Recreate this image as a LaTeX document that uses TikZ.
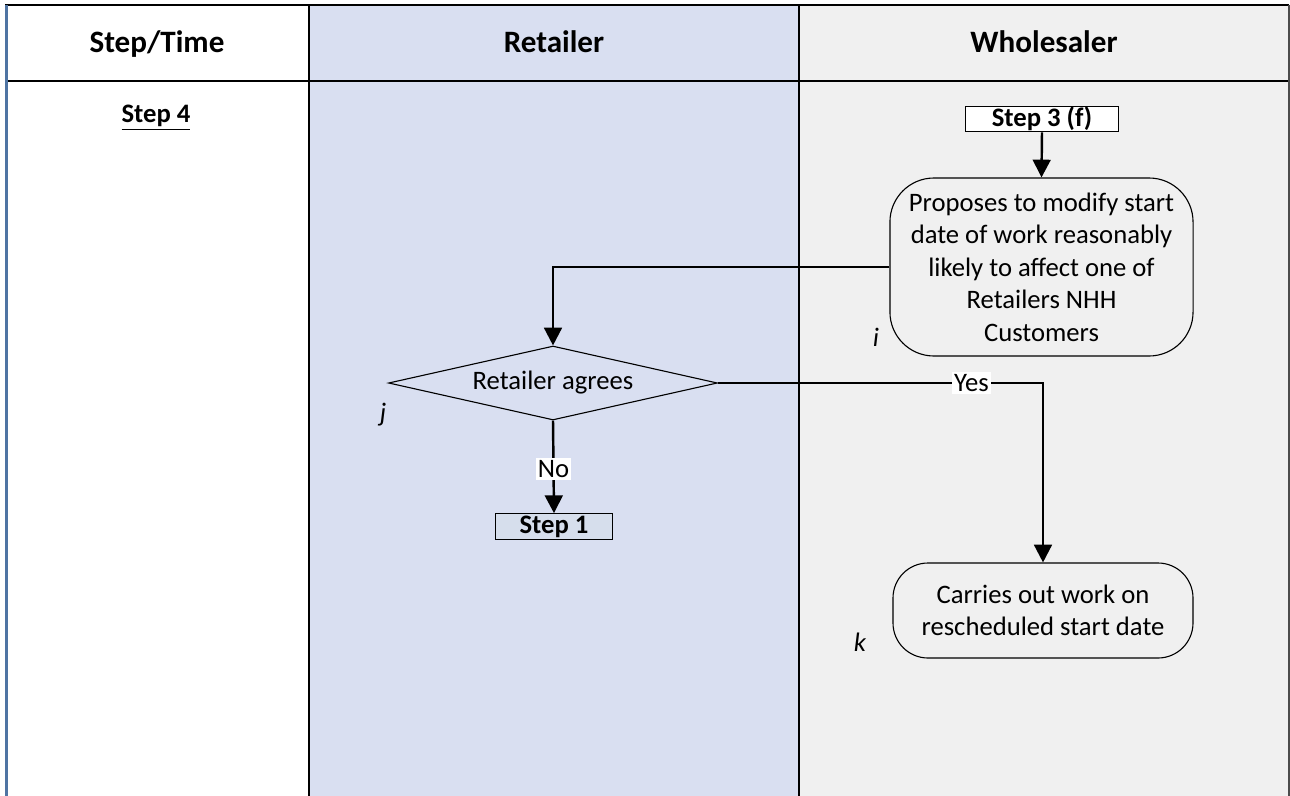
\documentclass[tikz,border=0pt]{standalone}
\usepackage{fontspec}
\setmainfont{Carlito}
\usetikzlibrary{shapes.geometric,arrows.meta}

\definecolor{retblue}{RGB}{217,223,241}
\definecolor{wholegrey}{RGB}{240,240,240}
\definecolor{stepblue}{RGB}{214,222,236}
\definecolor{edgeblue}{RGB}{79,116,163}

\newcommand{\bodyfont}{\fontsize{12}{14.6}\selectfont}

\tikzset{
  flow/.style={line width=1.1pt, -{Triangle[length=8pt,width=8pt]}},
  header/.style={font=\fontsize{14}{16}\selectfont\bfseries, anchor=base},
  stepbox/.style={draw, line width=0.5pt, font=\bodyfont\bfseries, inner xsep=0pt, inner ysep=1.5pt, text height=7.5pt, text depth=1pt},
  procbox/.style={draw, line width=0.5pt, align=center, inner sep=0pt},
  tag/.style={font=\bodyfont\itshape},
  answer/.style={fill=white, inner sep=1pt}
}

\begin{document}
\begin{tikzpicture}[x=0.45pt, y=-0.45pt, font=\bodyfont]

% Define frame
\useasboundingbox (0,0) rectangle (1290,796);

% Column backgrounds
\fill[white] (5,5) rectangle (309,796);
\fill[retblue] (309,5) rectangle (799,796);
\fill[wholegrey] (799,5) rectangle (1289,796);

% Table lines
\draw[line width=0.9pt] (5,5) -- (1289,5);
\draw[line width=0.9pt] (5,81) -- (1289,81);
\draw[line width=0.9pt] (309,5) -- (309,796);
\draw[line width=0.9pt] (799,5) -- (799,796);
\draw[line width=0.7pt, black!70] (1289,5) -- (1289,796);
\draw[line width=1.4pt, edgeblue] (6.5,5) -- (6.5,796);

% Headers
\node[header] (hdrStep) at (157,52) {Step/Time};
\node[header] (hdrRet) at (554,52) {Retailer};
\node[header] (hdrWhole) at (1044,52) {Wholesaler};
\node[font=\bodyfont\bfseries, anchor=base] (step4) at (156,122) {\underline{Step 4}};

% Flow nodes
\node[stepbox, fill=white, minimum width=68.9pt] (s3f) at (1042,119) {Step 3 (f)};
\node[procbox, rounded corners=19.8pt, minimum width=136.4pt, minimum height=80.1pt] (propose) at (1041.5,267)
  {Proposes to modify start\\date of work reasonably\\likely to affect one of\\Retailers NHH\\Customers};
\node[draw, diamond, line width=0.5pt, aspect=4.45, inner sep=0pt, minimum width=148pt, minimum height=33.3pt] (agree) at (553,383) {Retailer agrees};
\node[stepbox, fill=stepblue, minimum width=53pt] (step1) at (554,526.5) {Step 1};
\node[procbox, rounded corners=15.75pt, minimum width=135pt, minimum height=42.75pt] (carry) at (1043,610.5)
  {Carries out work on\\rescheduled start date};

% Step letters
\node[tag] (li) at (876,337) {i};
\node[tag] (lj) at (383,415) {j};
\node[tag] (lk) at (860,642) {k};

% Connectors
\draw[flow] (s3f.south) -- (propose.north);
\draw[flow] (propose.west) -| (agree.north);
\draw[flow] (agree.east) -| node[answer, pos=0.39] {Yes} (carry.north);
\draw[flow] (agree.south) -- node[answer, pos=0.52] {No} (step1.north);

\end{tikzpicture}
\end{document}
